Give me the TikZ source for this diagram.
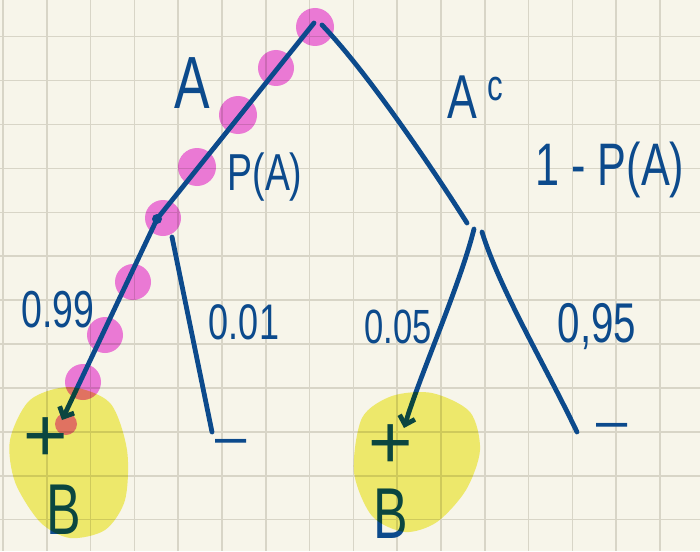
\documentclass[tikz,border=0pt]{standalone}
\usepackage{fontspec}
\newfontfamily\handfont{Liberation Sans}[FakeStretch=0.72]
\newfontfamily\handwide{Liberation Sans}
\usetikzlibrary{arrows.meta,positioning}
\definecolor{paper}{HTML}{F7F5EA}
\definecolor{gridline}{HTML}{D8D5C7}
\definecolor{ink}{HTML}{0C4A8C}
\definecolor{hilite}{HTML}{F27EE8}
\definecolor{marker}{HTML}{F5F275}
\newcommand{\handsize}[1]{\fontsize{#1}{#1}\selectfont}

\begin{document}
\begin{tikzpicture}[x=0.5pt,y=-0.5pt,
  gridln/.style={draw=gridline,line width=0.8pt},
  branch/.style={draw=ink,line width=2.4pt,line cap=round,line join=round},
  arr/.style={branch,-{Straight Barb[length=4pt,width=8pt]}},
  lbl/.style={text=ink,inner sep=0pt,font=\handfont\handsize{26pt}},
  leaf/.style={text=ink,inner sep=0pt,font=\handwide\handsize{38pt}},
  pinkdot/.style={fill=hilite,draw=none},
  blob/.style={fill=marker,draw=none}]
% paper and squares
\fill[paper] (0,0) rectangle (700,551);
\useasboundingbox (0,0) rectangle (700,551);
\foreach \gx in {0,...,15}
  \draw[gridln] ({3+43.8*\gx},0) -- ({3+43.8*\gx},551);
\foreach \gy in {1,...,12}
  \draw[gridln] (0,{-7.2+43.9*\gy}) -- (700,{-7.2+43.9*\gy});

% pink dots along the A path
\begin{scope}[blend mode=multiply]
\foreach \px/\py/\pr in {315/27/19,276/68/18,238/115/19,197/167/19,163/218/18,133/282/18,105/335/18,83/382/18,66/424/11}
  \fill[pinkdot] (\px,\py) circle (\pr);
\end{scope}

% branch points
\coordinate (root) at (314,23);
\coordinate (rootR) at (322,25);
\coordinate (nA) at (157,219);
\coordinate (nAr) at (172,237);
\coordinate (nAc) at (467,223);
\coordinate (nAcL) at (474,229);
\coordinate (nAcR) at (482,232);
\coordinate (tipA) at (62,420);
\coordinate (endA) at (212,432);
\coordinate (tipAc) at (404,428);
\coordinate (endAc) at (577,432);

% leaves
\node[leaf] (posA) at (46,440) {+};
\node[leaf,font=\handfont\handsize{36pt}] (bA) at (64,510) {B};
\node[leaf,font=\handwide\handsize{28pt}] (negA) at (231,447) {\textendash};
\node[leaf] (posAc) at (391,447) {+};
\node[leaf,font=\handfont\handsize{36pt}] (bAc) at (391,514) {B};
\node[leaf,font=\handwide\handsize{28pt}] (negAc) at (612,431) {\textendash};

% branches
\draw[arr] (root) -- (nA) -- (tipA);
\fill[ink] (nA) circle (5);
\draw[branch] (rootR) .. controls (370,75) and (440,180) .. (nAc);
\draw[branch] (nAr) -- (endA);
\draw[arr] (nAcL) .. controls (460,285) and (420,375) .. (tipAc);
\draw[branch] (nAcR) .. controls (500,290) and (545,365) .. (endAc);

% labels
\node[lbl,font=\handfont\handsize{37pt}] (lA) at (192,83) {A};
\node[lbl,font=\handfont\handsize{26pt}] (pA) at (265,177) {P(A)};
\node[lbl,font=\handfont\handsize{31pt}] (lAc) at (476,97) {A\,\textsuperscript{c}};
\node[lbl,font=\handfont\handsize{30pt}] (pAc) at (610,170) {1 - P(A)};
\node[lbl] (p99) at (58,310) {0.99};
\node[lbl,font=\handfont\handsize{25pt}] (p01) at (244,322) {0.01};
\node[lbl,font=\handfont\handsize{24pt}] (p05) at (398,327) {0.05};
\node[lbl,font=\handfont\handsize{28pt}] (p95) at (597,327) {0,95};

% yellow marker over the B outcomes
\begin{scope}[blend mode=multiply]
\fill[blob] plot[smooth cycle] coordinates {(30,400) (70,387) (110,403) (127,450) (125,500) (105,530) (70,538) (40,522) (15,482) (10,440)};
\fill[blob] plot[smooth cycle] coordinates {(362,418) (392,396) (432,393) (470,412) (480,450) (466,490) (437,522) (405,532) (372,516) (354,472)};
\end{scope}
\end{tikzpicture}
\end{document}
